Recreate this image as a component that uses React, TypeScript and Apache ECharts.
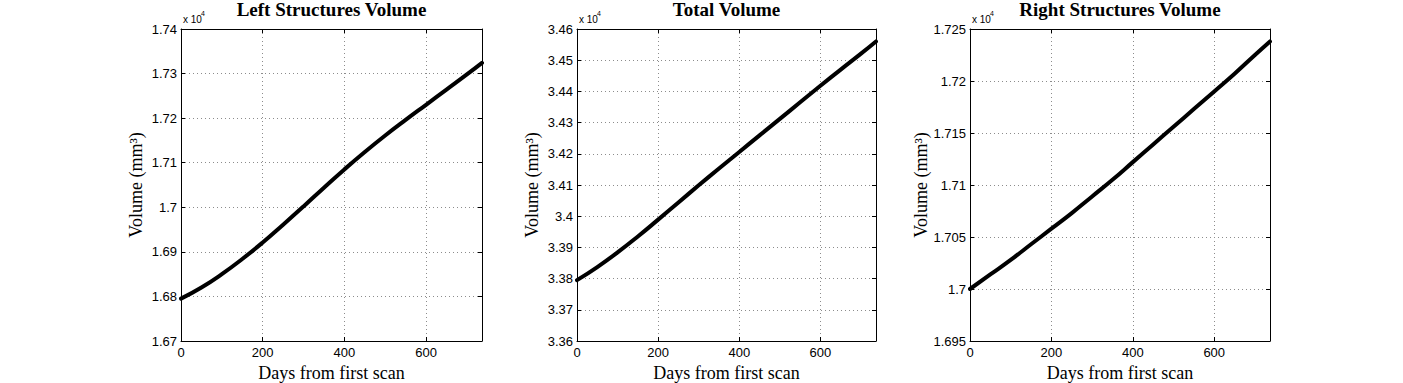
import React, { useEffect, useRef } from "react";
import * as echarts from "echarts";

const days = [0, 50, 100, 150, 200, 250, 300, 350, 400, 450, 500, 550, 600, 650, 700, 737];
const leftVolume = [16795, 16820, 16850, 16884, 16921, 16961, 17002, 17044, 17085, 17124, 17161, 17196, 17230, 17264, 17298, 17324];
const totalVolume = [33795, 33837, 33884, 33935, 33989, 34044, 34099, 34153, 34206, 34259, 34312, 34365, 34418, 34470, 34521, 34560];
const rightVolume = [17000, 17014, 17028, 17043, 17058, 17073, 17089, 17105, 17122, 17139, 17156, 17173, 17190, 17207, 17225, 17238];

const titles = ["Left Structures Volume", "Total Volume", "Right Structures Volume"];
const xTitle = "Days from first scan";
const yTitle = "Volume (mm³)";
const xMax = 737;
const xStep = 200;
const yRanges = [
  { min: 16700, max: 17400, step: 100 },
  { min: 33600, max: 34600, step: 100 },
  { min: 16950, max: 17250, step: 50 },
];
const seriesValues = [leftVolume, totalVolume, rightVolume];

const grids = [
  { left: 181, top: 29, width: 301, height: 312 },
  { left: 577, top: 29, width: 299, height: 312 },
  { left: 970, top: 29, width: 300, height: 312 },
];

const fmtY = (v: number) => String(parseFloat((v / 10000).toFixed(4)));

export default function App() {
  const ref = useRef<HTMLDivElement>(null);
  useEffect(() => {
    if (!ref.current) return;
    const chart = echarts.init(ref.current, undefined, { renderer: "svg" });
    const sans = "'Liberation Sans', Arial, Helvetica, sans-serif";
    const serif = "'Liberation Serif', 'Times New Roman', serif";
    const gridLine = { show: true, lineStyle: { color: "#8c8c8c", width: 1, type: [1, 3] as any } };
    const xAxes: any[] = [];
    const yAxes: any[] = [];
    const series: any[] = [];
    const graphics: any[] = [];
    const titleOpts: any[] = [];
    grids.forEach((g, i) => {
      const yr = yRanges[i];
      xAxes.push({
        type: "value", gridIndex: i, position: "bottom", min: 0, max: xMax, interval: xStep,
        axisLine: { show: true, onZero: false, lineStyle: { color: "#000", width: 1 } },
        axisTick: { show: true, inside: true, length: 4, lineStyle: { color: "#000" } },
        axisLabel: { show: true, showMaxLabel: false, margin: 5, color: "#000", fontFamily: sans, fontSize: 13 },
        splitLine: gridLine,
        name: xTitle, nameLocation: "middle", nameGap: 17,
        nameTextStyle: { color: "#000", fontFamily: serif, fontSize: 18 },
      });
      xAxes.push({
        type: "value", gridIndex: i, position: "top", min: 0, max: xMax, interval: xStep,
        axisLine: { show: true, onZero: false, lineStyle: { color: "#000", width: 1 } },
        axisTick: { show: true, inside: true, length: 4, lineStyle: { color: "#000" } },
        axisLabel: { show: false }, splitLine: { show: false },
      });
      yAxes.push({
        type: "value", gridIndex: i, position: "left", min: yr.min, max: yr.max, interval: yr.step,
        axisLine: { show: true, onZero: false, lineStyle: { color: "#000", width: 1 } },
        axisTick: { show: true, inside: true, length: 4, lineStyle: { color: "#000" } },
        axisLabel: { show: true, margin: 4, color: "#000", fontFamily: sans, fontSize: 13, formatter: fmtY },
        splitLine: gridLine,
        name: yTitle, nameLocation: "middle", nameGap: 36,
        nameTextStyle: { color: "#000", fontFamily: serif, fontSize: 18 },
      });
      yAxes.push({
        type: "value", gridIndex: i, position: "right", min: yr.min, max: yr.max, interval: yr.step,
        axisLine: { show: true, onZero: false, lineStyle: { color: "#000", width: 1 } },
        axisTick: { show: true, inside: true, length: 4, lineStyle: { color: "#000" } },
        axisLabel: { show: false }, splitLine: { show: false },
      });
      series.push({
        type: "line", xAxisIndex: i * 2, yAxisIndex: i * 2, smooth: true, symbol: "none",
        lineStyle: { color: "#000", width: 4, join: "round", cap: "round" },
        data: days.map((d, k) => [d, seriesValues[i][k]]),
      });
      titleOpts.push({
        text: titles[i], left: g.left + g.width / 2, top: 0, textAlign: "center", padding: 0,
        textStyle: { color: "#000", fontFamily: serif, fontSize: 19, fontWeight: "bold" },
      });
      graphics.push({
        type: "text", x: g.left + 2, y: 14.5,
        style: { text: "x 10", fill: "#000", font: `10px ${sans}`, textAlign: "left", textVerticalAlign: "top" },
      });
      graphics.push({
        type: "text", x: g.left + 20, y: 10,
        style: { text: "4", fill: "#000", font: `7px ${sans}`, textAlign: "left", textVerticalAlign: "top" },
      });
    });
    chart.setOption({
      animation: false,
      backgroundColor: "#fff",
      title: titleOpts,
      grid: grids.map((g) => ({ ...g, containLabel: false, outerBoundsMode: "none" })),
      xAxis: xAxes,
      yAxis: yAxes,
      series,
      graphic: graphics,
    });
    return () => chart.dispose();
  }, []);
  return <div ref={ref} style={{ position: "fixed", left: 0, top: 0, width: 1403, height: 383 }} />;
}
